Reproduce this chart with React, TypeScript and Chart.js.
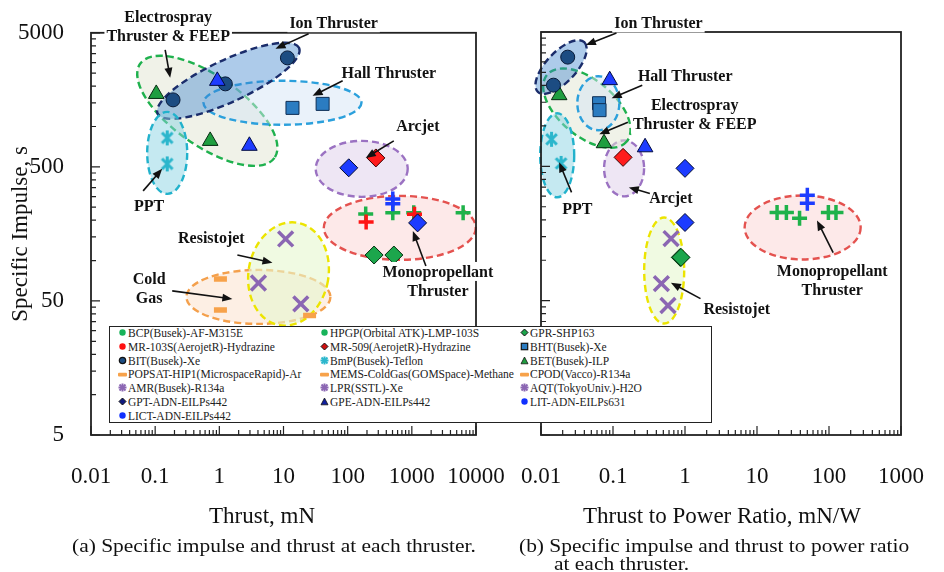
import React, { useEffect, useRef } from "react";
import { Chart, registerables } from "chart.js";
Chart.register(...registerables);

const SERIF = '"Liberation Serif", "Times New Roman", Times, serif';
const W = 944;
const H = 572;

// ---------- tick labels ----------
const THRUST_TICKS = [0.01, 0.1, 1, 10, 100, 1000, 10000];
const TPR_TICKS = [0.01, 0.1, 1, 10, 100, 1000];
const ISP_TICKS = [5, 50, 500, 5000];

type Pt = [number, number];

// ---------- panel (a): [thrust mN, specific impulse s] ----------
const BCP_A: Pt[] = [[191, 223], [505, 227]];
const HPGP_A: Pt[] = [[1070, 227], [6300, 227]];
const GPR_A: Pt[] = [[258, 110], [525, 110]];
const MR103S_A: Pt[] = [[194, 194], [1100, 222]];
const MR509_A: Pt[] = [[275, 583]];
const BHT_A: Pt[] = [[13.8, 1377], [40.7, 1475]];
const BIT_A: Pt[] = [[0.19, 1580], [1.24, 2080], [11.5, 3250]];
const BMP_A: Pt[] = [[0.154, 822], [0.154, 526]];
const BET_A: Pt[] = [[0.104, 1750], [0.72, 781]];
const POPSAT_A: Pt[] = [[1.04, 42.8]];
const MEMS_A: Pt[] = [[1.04, 73]];
const CPOD_A: Pt[] = [[25.5, 39]];
const AMR_A: Pt[] = [[10.8, 145]];
const LPR_A: Pt[] = [[18.6, 47.5]];
const AQT_A: Pt[] = [[4.07, 68]];
const GPT_A: Pt[] = [[104, 492], [1230, 191]];
const GPE_A: Pt[] = [[0.93, 2190], [2.94, 718]];
const LIT_A: Pt[] = [[505, 288]];
const LICT_A: Pt[] = [[505, 265]];

// ---------- panel (b): [thrust-to-power mN/W, specific impulse s] ----------
const BCP_B: Pt[] = [[19, 227], [25.6, 227], [39, 205]];
const HPGP_B: Pt[] = [[98, 227], [125, 227]];
const GPR_B: Pt[] = [[0.86, 105], [0.88, 105]];
const MR103S_B: Pt[] = [];
const MR509_B: Pt[] = [[0.138, 583]];
const BHT_B: Pt[] = [[0.064, 1475], [0.065, 1310]];
const BIT_B: Pt[] = [[0.0149, 2010], [0.0235, 3250]];
const BMP_B: Pt[] = [[0.014, 795], [0.019, 526]];
const BET_B: Pt[] = [[0.0179, 1693], [0.075, 743]];
const POPSAT_B: Pt[] = [];
const MEMS_B: Pt[] = [];
const CPOD_B: Pt[] = [];
const AMR_B: Pt[] = [[0.64, 145]];
const LPR_B: Pt[] = [[0.58, 46]];
const AQT_B: Pt[] = [[0.47, 67]];
const GPT_B: Pt[] = [[1.0, 483], [1.0, 191]];
const GPE_B: Pt[] = [[0.09, 2190], [0.279, 693]];
const LIT_B: Pt[] = [[50, 304]];
const LICT_B: Pt[] = [[50, 265]];

// ---------- series table (legend order, row-major, 3 columns) ----------
const SERIES = [
  { name: "BCP(Busek)-AF-M315E", a: BCP_A, b: BCP_B, mark: "plusG", leg: "dotG", order: 2 },
  { name: "HPGP(Orbital ATK)-LMP-103S", a: HPGP_A, b: HPGP_B, mark: "plusG", leg: "dotG", order: 2 },
  { name: "GPR-SHP163", a: GPR_A, b: GPR_B, mark: "diaG", leg: "diaG", order: 1 },
  { name: "MR-103S(AerojetR)-Hydrazine", a: MR103S_A, b: MR103S_B, mark: "plusR", leg: "dotR", order: 1 },
  { name: "MR-509(AerojetR)-Hydrazine", a: MR509_A, b: MR509_B, mark: "diaR", leg: "diaR", order: 1 },
  { name: "BHT(Busek)-Xe", a: BHT_A, b: BHT_B, mark: "sqB", leg: "sqB", order: 1 },
  { name: "BIT(Busek)-Xe", a: BIT_A, b: BIT_B, mark: "circN", leg: "circN", order: 1 },
  { name: "BmP(Busek)-Teflon", a: BMP_A, b: BMP_B, mark: "astC", leg: "astC", order: 1 },
  { name: "BET(Busek)-ILP", a: BET_A, b: BET_B, mark: "triG", leg: "triG", order: 1 },
  { name: "POPSAT-HIP1(MicrospaceRapid)-Ar", a: POPSAT_A, b: POPSAT_B, mark: "dashO", leg: "dashO", order: 1 },
  { name: "MEMS-ColdGas(GOMSpace)-Methane", a: MEMS_A, b: MEMS_B, mark: "dashO", leg: "dashO", order: 1 },
  { name: "CPOD(Vacco)-R134a", a: CPOD_A, b: CPOD_B, mark: "dashO", leg: "dashO", order: 1 },
  { name: "AMR(Busek)-R134a", a: AMR_A, b: AMR_B, mark: "xP", leg: "astP", order: 1 },
  { name: "LPR(SSTL)-Xe", a: LPR_A, b: LPR_B, mark: "xP", leg: "astP", order: 1 },
  { name: "AQT(TokyoUniv.)-H2O", a: AQT_A, b: AQT_B, mark: "xP", leg: "astP", order: 1 },
  { name: "GPT-ADN-EILPs442", a: GPT_A, b: GPT_B, mark: "diaB", leg: "diaN", order: 0 },
  { name: "GPE-ADN-EILPs442", a: GPE_A, b: GPE_B, mark: "triB", leg: "triN", order: 0 },
  { name: "LIT-ADN-EILPs631", a: LIT_A, b: LIT_B, mark: "plusB", leg: "dotB", order: 0 },
  { name: "LICT-ADN-EILPs442", a: LICT_A, b: LICT_B, mark: "plusB", leg: "dotB", order: 0 },
];

// ---------- marker styles ----------
const MARK: Record<string, any> = {
  plusG: { style: "cross", r: 7.5, bg: "#1fb24a", bc: "#1fb24a", bw: 3.5 },
  plusR: { style: "cross", r: 7.5, bg: "#ff1414", bc: "#ff1414", bw: 3.5 },
  plusB: { style: "cross", r: 7.5, bg: "#1c3cff", bc: "#1c3cff", bw: 3.5 },
  diaG: { style: "rectRot", r: 9, bg: "#1ca64c", bc: "#05300f", bw: 1 },
  diaR: { style: "rectRot", r: 9, bg: "#ff1c1c", bc: "#3a0000", bw: 1 },
  diaB: { style: "rectRot", r: 9, bg: "#1c3cff", bc: "#000a30", bw: 1 },
  sqB: { style: "rect", r: 9.2, bg: "#2b7cc1", bc: "#0f2f55", bw: 1 },
  circN: { style: "circle", r: 7, bg: "#1c4c82", bc: "#081a38", bw: 1 },
  astC: { style: "asterisk", r: 8, bg: "#2bb6cc", bc: "#2bb6cc", bw: 3 },
  triG: { style: "triangle", r: 9, bg: "#1f9e40", bc: "#052b10", bw: 1 },
  triB: { style: "triangle", r: 9, bg: "#1e3cff", bc: "#000a40", bw: 1 },
  dashO: { style: "line", r: 6.5, bg: "#f7a24a", bc: "#f7a24a", bw: 5.5 },
  xP: { style: "crossRot", r: 10.5, bg: "#8b66b3", bc: "#8b66b3", bw: 3.5 },
};

// ---------- annotations (centres in log10 data units, sizes in px) ----------
type Ell = { c: Pt; rx: number; ry: number; rot: number; stroke: string; fill: string };
const ELLIPSES_A: Ell[] = [
  { c: [0.609, 1.729], rx: 72, ry: 27, rot: 0, stroke: "#f4a04c", fill: "rgba(252,226,206,0.55)" },
  { c: [1.078, 1.9], rx: 40, ry: 52, rot: 10, stroke: "#ece400", fill: "rgba(230,246,206,0.6)" },
  { c: [2.8125, 2.244], rx: 76, ry: 32, rot: 0, stroke: "#e4524f", fill: "rgba(251,218,218,0.6)" },
  { c: [2.219, 2.684], rx: 46, ry: 28, rot: 0, stroke: "#9b72c2", fill: "rgba(226,214,236,0.6)" },
  { c: [-0.1875, 3.117], rx: 82, ry: 35, rot: 35, stroke: "#1fb14e", fill: "rgba(226,230,210,0.5)" },
  { c: [0.984, 3.177], rx: 79, ry: 22, rot: 0, stroke: "#2ba0dc", fill: "rgba(214,230,246,0.5)" },
  { c: [0.1406, 3.341], rx: 78, ry: 21, rot: -25, stroke: "#1b2d6b", fill: "rgba(60,130,205,0.42)" },
  { c: [-0.8125, 2.803], rx: 20, ry: 41, rot: 0, stroke: "#22b2cc", fill: "rgba(140,212,228,0.5)" },
];
const ELLIPSES_B: Ell[] = [
  { c: [-0.289, 1.923], rx: 20, ry: 53, rot: 0, stroke: "#ece400", fill: "rgba(230,246,206,0.6)" },
  { c: [1.634, 2.244], rx: 58, ry: 32, rot: 0, stroke: "#e4524f", fill: "rgba(251,218,218,0.6)" },
  { c: [-0.846, 2.684], rx: 20, ry: 28, rot: 0, stroke: "#9b72c2", fill: "rgba(226,214,236,0.6)" },
  { c: [-1.363, 3.132], rx: 52, ry: 28, rot: 40, stroke: "#1fb14e", fill: "rgba(226,230,210,0.5)" },
  { c: [-1.204, 3.169], rx: 21, ry: 27, rot: 0, stroke: "#2ba0dc", fill: "rgba(214,230,246,0.5)" },
  { c: [-1.721, 3.438], rx: 34, ry: 15, rot: -47, stroke: "#1b2d6b", fill: "rgba(60,130,205,0.42)" },
  { c: [-1.775, 2.781], rx: 17, ry: 42, rot: 0, stroke: "#22b2cc", fill: "rgba(140,212,228,0.5)" },
];
type Lab = { c: Pt; lines: string[] };
const LABELS_A: Lab[] = [
  { c: [-0.797, 3.744], lines: ["Electrospray", "Thruster & FEEP"] },
  { c: [1.781, 3.774], lines: ["Ion Thruster"] },
  { c: [2.641, 3.4005], lines: ["Hall Thruster"] },
  { c: [3.094, 3.005], lines: ["Arcjet"] },
  { c: [-1.094, 2.408], lines: ["PPT"] },
  { c: [-0.125, 2.169], lines: ["Resistojet"] },
  { c: [-1.094, 1.792], lines: ["Cold", "Gas"] },
  { c: [3.406, 1.848], lines: ["Monopropellant", "Thruster"] },
];
const LABELS_B: Lab[] = [
  { c: [-0.369, 3.766], lines: ["Ion Thruster"] },
  { c: [0.003, 3.371], lines: ["Hall Thruster"] },
  { c: [0.135, 3.083], lines: ["Electrospray", "Thruster & FEEP"] },
  { c: [-1.496, 2.386], lines: ["PPT"] },
  { c: [-0.196, 2.468], lines: ["Arcjet"] },
  { c: [0.719, 1.639], lines: ["Resistojet"] },
  { c: [2.045, 1.848], lines: ["Monopropellant", "Thruster"] },
];
type Arr = { from: Pt; to: Pt };
const ARROWS_A: Arr[] = [
  { from: [-0.844, 3.572], to: [-0.766, 3.363] },
  { from: [1.391, 3.6915], to: [0.875, 3.58] },
  { from: [1.922, 3.341], to: [1.453, 3.229] },
  { from: [2.719, 2.893], to: [2.281, 2.766] },
  { from: [-1.1875, 2.52], to: [-0.891, 2.684] },
  { from: [0.281, 2.042], to: [0.828, 1.983] },
  { from: [-0.734, 1.774], to: [0.203, 1.714] },
  { from: [3.219, 1.96], to: [3.016, 2.221] },
];
const ARROWS_B: Arr[] = [
  { from: [-0.952, 3.6915], to: [-1.377, 3.602] },
  { from: [-0.594, 3.303], to: [-1.019, 3.2065] },
  { from: [-0.793, 3.027], to: [-1.191, 2.938] },
  { from: [-1.576, 2.505], to: [-1.748, 2.729] },
  { from: [-0.488, 2.497], to: [-0.78, 2.542] },
  { from: [0.215, 1.714], to: [-0.196, 1.833] },
  { from: [2.058, 2.057], to: [1.833, 2.296] },
];

function makeAsterisk(color: string, size: number, lw: number) {
  const c = document.createElement("canvas");
  c.width = size;
  c.height = size;
  const g = c.getContext("2d")!;
  g.strokeStyle = color;
  g.lineWidth = lw;
  const m = size / 2;
  const r = size / 2 - 1;
  const d = r * Math.SQRT1_2;
  g.beginPath();
  g.moveTo(m - d, m - d);
  g.lineTo(m + d, m + d);
  g.moveTo(m + d, m - d);
  g.lineTo(m - d, m + d);
  g.moveTo(m, m - r);
  g.lineTo(m, m + r);
  g.stroke();
  return c;
}

function annotPlugin(ells: Ell[], labs: Lab[], arrs: Arr[]) {
  const toPx = (chart: any, p: Pt) => ({
    x: chart.scales.x.getPixelForValue(Math.pow(10, p[0])),
    y: chart.scales.y.getPixelForValue(Math.pow(10, p[1])),
  });
  return {
    id: "annot",
    beforeDatasetsDraw(chart: any) {
      const ctx = chart.ctx;
      const { left, right, top, bottom } = chart.chartArea;
      ctx.save();
      for (const e of ells) {
        const c = toPx(chart, e.c);
        ctx.save();
        ctx.translate(c.x, c.y);
        ctx.rotate((e.rot * Math.PI) / 180);
        ctx.beginPath();
        ctx.ellipse(0, 0, e.rx, e.ry, 0, 0, Math.PI * 2);
        ctx.fillStyle = e.fill;
        ctx.fill();
        ctx.setLineDash([7, 4]);
        ctx.lineWidth = 2.4;
        ctx.strokeStyle = e.stroke;
        ctx.stroke();
        ctx.restore();
      }
      // frame
      ctx.setLineDash([]);
      ctx.strokeStyle = "#222";
      ctx.lineWidth = 1.8;
      ctx.strokeRect(left, top, right - left, bottom - top);
      // inward ticks
      ctx.lineWidth = 1.2;
      const xs = chart.scales.x;
      const ys = chart.scales.y;
      ctx.beginPath();
      const e0 = Math.round(Math.log10(xs.min));
      const e1 = Math.round(Math.log10(xs.max));
      for (let e = e0; e <= e1; e++) {
        for (let k = 1; k <= 9; k++) {
          const v = k * Math.pow(10, e);
          if (v > xs.max * 1.0001) continue;
          const p = xs.getPixelForValue(v);
          const len = k === 1 ? 9 : 5;
          ctx.moveTo(p, bottom);
          ctx.lineTo(p, bottom - len);
        }
      }
      for (let e = 0; e <= 3; e++) {
        for (let k = 1; k <= 9; k++) {
          const v = 5 * k * Math.pow(10, e);
          if (v > ys.max * 1.0001) continue;
          const p = ys.getPixelForValue(v);
          const len = k === 1 ? 9 : 5;
          ctx.moveTo(left, p);
          ctx.lineTo(left + len, p);
        }
      }
      ctx.stroke();
      ctx.restore();
    },
    afterDraw(chart: any) {
      const ctx = chart.ctx;
      ctx.save();
      ctx.font = `bold 16px ${SERIF}`;
      ctx.textAlign = "center";
      ctx.textBaseline = "middle";
      const lh = 19;
      for (const l of labs) {
        const c = toPx(chart, l.c);
        const n = l.lines.length;
        l.lines.forEach((t, i) => {
          const y = c.y + (i - (n - 1) / 2) * lh;
          const w = ctx.measureText(t).width;
          ctx.fillStyle = "#fff";
          ctx.fillRect(c.x - w / 2 - 2, y - 9.5, w + 4, 19);
          ctx.fillStyle = "#111";
          ctx.fillText(t, c.x, y + 1);
        });
      }
      ctx.strokeStyle = "#111";
      ctx.fillStyle = "#111";
      ctx.lineWidth = 1.6;
      for (const a of arrs) {
        const p = toPx(chart, a.from);
        const q = toPx(chart, a.to);
        const ang = Math.atan2(q.y - p.y, q.x - p.x);
        const cs = Math.cos(ang);
        const sn = Math.sin(ang);
        ctx.beginPath();
        ctx.moveTo(p.x, p.y);
        ctx.lineTo(q.x - 7 * cs, q.y - 7 * sn);
        ctx.stroke();
        ctx.beginPath();
        ctx.moveTo(q.x, q.y);
        ctx.lineTo(q.x - 10 * cs + 4 * sn, q.y - 10 * sn - 4 * cs);
        ctx.lineTo(q.x - 10 * cs - 4 * sn, q.y - 10 * sn + 4 * cs);
        ctx.closePath();
        ctx.fill();
      }
      ctx.restore();
    },
  };
}

function buildChart(canvas: HTMLCanvasElement, panel: "a" | "b", astImg: HTMLCanvasElement) {
  const isA = panel === "a";
  const datasets = SERIES.map((s) => {
    const m = MARK[s.mark];
    const pts = (isA ? s.a : s.b).map(([x, y]) => ({ x, y }));
    return {
      label: s.name,
      data: pts,
      order: s.order,
      pointStyle: m.style === "asterisk" ? astImg : m.style,
      pointRadius: m.r,
      pointBackgroundColor: m.bg,
      pointBorderColor: m.bc,
      pointBorderWidth: m.bw,
      backgroundColor: m.bg,
      borderColor: m.bc,
      showLine: false,
    };
  });
  const xTicks = isA ? THRUST_TICKS : TPR_TICKS;
  return new Chart(canvas, {
    type: "scatter",
    data: { datasets } as any,
    options: {
      responsive: false,
      animation: false,
      events: [],
      layout: { padding: { top: 32, left: 0, right: isA ? W - 476 : 26, bottom: 0 } },
      plugins: { legend: { display: false }, tooltip: { enabled: false } },
      scales: {
        x: {
          type: "logarithmic",
          position: "bottom",
          min: 0.01,
          max: isA ? 10000 : 1000,
          afterFit: (s: any) => {
            s.height = H - 435;
          },
          afterBuildTicks: (s: any) => {
            s.ticks = xTicks.map((v) => ({ value: v }));
          },
          grid: { display: false },
          border: { display: false },
          ticks: {
            autoSkip: false,
            maxRotation: 0,
            padding: 20,
            color: "#111",
            font: { family: SERIF, size: 23 },
            callback: (v: any) => String(v),
          },
        },
        y: {
          type: "logarithmic",
          position: "left",
          min: 5,
          max: 5000,
          afterFit: (s: any) => {
            s.width = isA ? 91 : 541;
          },
          afterBuildTicks: (s: any) => {
            s.ticks = ISP_TICKS.map((v) => ({ value: v }));
          },
          grid: { display: false },
          border: { display: false },
          ticks: {
            display: isA,
            padding: 19,
            color: "#111",
            font: { family: SERIF, size: 23 },
            callback: (v: any) => String(v),
          },
          title: {
            display: isA,
            text: "Specific Impulse, s",
            color: "#111",
            font: { family: SERIF, size: 23 },
            padding: { top: 7, bottom: 0 },
          },
        },
      },
    } as any,
    plugins: [annotPlugin(isA ? ELLIPSES_A : ELLIPSES_B, isA ? LABELS_A : LABELS_B, isA ? ARROWS_A : ARROWS_B)],
  });
}

const LEG: Record<string, { shape: string; fill: string; stroke: string }> = {
  dotG: { shape: "dot", fill: "#18b35a", stroke: "#18b35a" },
  dotR: { shape: "dot", fill: "#ff1010", stroke: "#ff1010" },
  dotB: { shape: "dot", fill: "#1030ff", stroke: "#1030ff" },
  diaG: { shape: "diamond", fill: "#1ca64c", stroke: "#111" },
  diaR: { shape: "diamond", fill: "#d01010", stroke: "#111" },
  diaN: { shape: "diamond", fill: "#101a80", stroke: "#111" },
  sqB: { shape: "square", fill: "#2b7cc1", stroke: "#111" },
  circN: { shape: "circle", fill: "#1c4c82", stroke: "#111" },
  astC: { shape: "asterisk", fill: "#2bb6cc", stroke: "#2bb6cc" },
  astP: { shape: "asterisk", fill: "#8b66b3", stroke: "#8b66b3" },
  triG: { shape: "triangle", fill: "#1f9e40", stroke: "#111" },
  triN: { shape: "triangle", fill: "#1020a0", stroke: "#111" },
  dashO: { shape: "dash", fill: "#f7a24a", stroke: "#f7a24a" },
};

function LegendMarker({ kind }: { kind: string }) {
  const m = LEG[kind];
  let el: any = null;
  if (m.shape === "dot") el = <circle cx={4.5} cy={4.5} r={3.2} fill={m.fill} />;
  else if (m.shape === "circle") el = <circle cx={4.5} cy={4.5} r={3.2} fill={m.fill} stroke={m.stroke} strokeWidth={1.2} />;
  else if (m.shape === "diamond") el = <polygon points="4.5,1 8,4.5 4.5,8 1,4.5" fill={m.fill} stroke={m.stroke} strokeWidth={1} />;
  else if (m.shape === "square") el = <rect x={1.3} y={1.3} width={6.4} height={6.4} fill={m.fill} stroke={m.stroke} strokeWidth={1.2} />;
  else if (m.shape === "triangle") el = <polygon points="4.5,1 8,7.8 1,7.8" fill={m.fill} stroke={m.stroke} strokeWidth={0.8} />;
  else if (m.shape === "dash") el = <rect x={0} y={2.8} width={9} height={3.6} rx={1} fill={m.fill} />;
  else if (m.shape === "asterisk")
    el = (
      <g stroke={m.stroke} strokeWidth={2}>
        <line x1={1.5} y1={1.5} x2={7.5} y2={7.5} />
        <line x1={7.5} y1={1.5} x2={1.5} y2={7.5} />
        <line x1={4.5} y1={0.5} x2={4.5} y2={8.5} />
        <line x1={0.5} y1={4.5} x2={8.5} y2={4.5} />
      </g>
    );
  return (
    <svg width={9} height={9} style={{ display: "block", flex: "none" }}>
      {el}
    </svg>
  );
}

const LEG_COL_X = [8, 210, 410];
const LEG_ROW_Y = [5.5, 19.5, 33.5, 47, 60.5, 74.5, 88.5];

export default function App() {
  const refA = useRef<HTMLCanvasElement>(null);
  const refB = useRef<HTMLCanvasElement>(null);
  useEffect(() => {
    const ast = makeAsterisk("#2bb6cc", 17, 3);
    const a = buildChart(refA.current!, "a", ast);
    const b = buildChart(refB.current!, "b", ast);
    return () => {
      a.destroy();
      b.destroy();
    };
  }, []);
  const txt: React.CSSProperties = {
    position: "absolute",
    fontFamily: SERIF,
    color: "#111",
    whiteSpace: "nowrap",
  };
  const cap: React.CSSProperties = {
    ...txt,
    fontSize: 19.5,
    lineHeight: "20px",
    transform: "scaleX(1.1)",
    transformOrigin: "0 50%",
  };
  return (
    <div style={{ position: "fixed", left: 0, top: 0, width: W, height: H, background: "#fff", overflow: "hidden" }}>
      <canvas ref={refA} width={W} height={H} style={{ position: "absolute", left: 0, top: 0, width: W, height: H }} />
      <canvas ref={refB} width={W} height={H} style={{ position: "absolute", left: 0, top: 0, width: W, height: H }} />
      <div
        style={{
          position: "absolute",
          left: 109,
          top: 326,
          width: 603,
          height: 97,
          boxSizing: "border-box",
          border: "1.5px solid #222",
          background: "#fff",
        }}
      >
        {SERIES.map((s, i) => (
          <div
            key={s.name}
            style={{
              position: "absolute",
              left: LEG_COL_X[i % 3],
              top: LEG_ROW_Y[Math.floor(i / 3)] - 7,
              height: 14,
              display: "flex",
              alignItems: "center",
              gap: 1,
              fontFamily: SERIF,
              fontSize: 11.5,
              color: "#222",
              whiteSpace: "nowrap",
            }}
          >
            <LegendMarker kind={s.leg} />
            <span>{s.name}</span>
          </div>
        ))}
      </div>
      <div style={{ ...txt, left: 62, width: 400, top: 502, lineHeight: "28px", fontSize: 23, textAlign: "center" }}>
        Thrust, mN
      </div>
      <div style={{ ...txt, left: 522, width: 400, top: 502, lineHeight: "28px", fontSize: 23, textAlign: "center" }}>
        Thrust to Power Ratio, mN/W
      </div>
      <div style={{ ...cap, left: 72, top: 536 }}>(a) Specific impulse and thrust at each thruster.</div>
      <div style={{ ...cap, left: 519, top: 536 }}>(b) Specific impulse and thrust to power ratio</div>
      <div style={{ ...cap, left: 554, top: 554 }}>at each thruster.</div>
    </div>
  );
}
